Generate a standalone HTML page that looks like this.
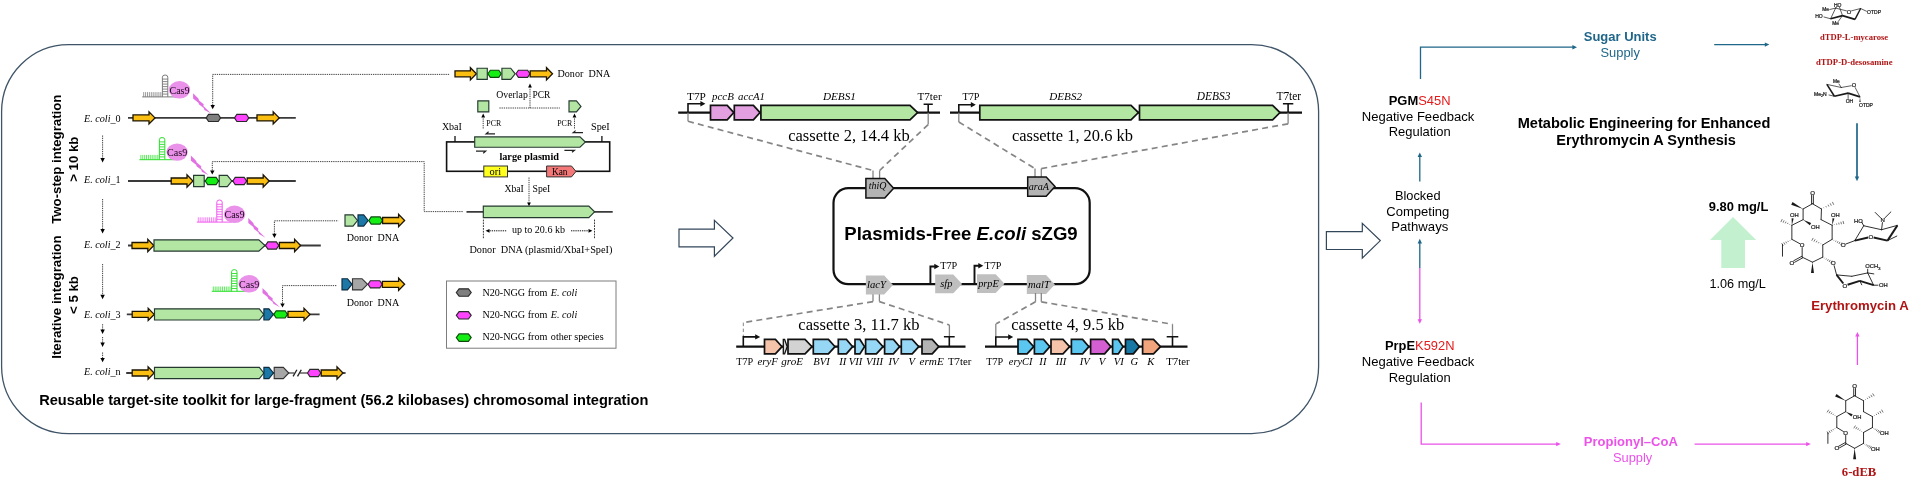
<!DOCTYPE html>
<html><head><meta charset="utf-8"><title>Figure</title>
<style>
html,body{margin:0;padding:0;background:#fff}
svg{display:block;will-change:transform}
text{white-space:pre}
.s{font-family:"Liberation Serif",serif}
.si{font-family:"Liberation Serif",serif;font-style:italic}
.sb{font-family:"Liberation Serif",serif;font-weight:bold}
.sbi{font-family:"Liberation Serif",serif;font-weight:bold;font-style:italic}
.a{font-family:"Liberation Sans",sans-serif}
.ab{font-family:"Liberation Sans",sans-serif;font-weight:bold}
.ai{font-family:"Liberation Sans",sans-serif;font-style:italic}
.abi{font-family:"Liberation Sans",sans-serif;font-weight:bold;font-style:italic}
</style></head><body>
<svg width="1920" height="480" viewBox="0 0 1920 480">
<rect width="1920" height="480" fill="#fff"/>
<rect x="1.6" y="44.6" width="1317" height="389" rx="67" ry="67" fill="none" stroke="#3f5467" stroke-width="1.3"/>
<text class="ab" font-size="13.25" text-anchor="middle" transform="translate(61.2,159.2) rotate(-90)">Two-step integration</text>
<text class="ab" font-size="13.25" text-anchor="middle" transform="translate(77.5,159.2) rotate(-90)">&gt; 10 kb</text>
<text class="ab" font-size="13.3" text-anchor="middle" transform="translate(61.2,297.1) rotate(-90)">Iterative integration</text>
<text class="ab" font-size="13.25" text-anchor="middle" transform="translate(77.5,295) rotate(-90)">&lt; 5 kb</text>
<text x="84" y="121.8" font-size="10.15" textLength="36.6" lengthAdjust="spacingAndGlyphs"><tspan class="si">E. coli</tspan><tspan class="s">_0</tspan></text>
<text x="84" y="183.2" font-size="10.15" textLength="36.6" lengthAdjust="spacingAndGlyphs"><tspan class="si">E. coli</tspan><tspan class="s">_1</tspan></text>
<text x="84" y="248.3" font-size="10.15" textLength="36.6" lengthAdjust="spacingAndGlyphs"><tspan class="si">E. coli</tspan><tspan class="s">_2</tspan></text>
<text x="84" y="317.5" font-size="10.15" textLength="36.6" lengthAdjust="spacingAndGlyphs"><tspan class="si">E. coli</tspan><tspan class="s">_3</tspan></text>
<text x="84" y="374.8" font-size="10.15" textLength="36.6" lengthAdjust="spacingAndGlyphs"><tspan class="si">E. coli</tspan><tspan class="s">_n</tspan></text>
<line x1="102.6" y1="135.5" x2="102.6" y2="159.5" stroke="#111" stroke-width="0.8" stroke-dasharray="1.3 0.9"/>
<polygon points="102.6,162.5 100.4,158.1 104.8,158.1" fill="#000"/>
<line x1="102.6" y1="199" x2="102.6" y2="230.5" stroke="#111" stroke-width="0.8" stroke-dasharray="1.3 0.9"/>
<polygon points="102.6,233.5 100.4,229.1 104.8,229.1" fill="#000"/>
<line x1="102.6" y1="264" x2="102.6" y2="296.2" stroke="#111" stroke-width="0.8" stroke-dasharray="1.3 0.9"/>
<polygon points="102.6,299.2 100.4,294.8 104.8,294.8" fill="#000"/>
<line x1="102.6" y1="324.2" x2="102.6" y2="331" stroke="#111" stroke-width="0.8" stroke-dasharray="1.3 0.9"/>
<polygon points="102.6,334 100.4,329.6 104.8,329.6" fill="#000"/>
<line x1="102.6" y1="337" x2="102.6" y2="343.9" stroke="#111" stroke-width="0.8" stroke-dasharray="1.3 0.9"/>
<polygon points="102.6,346.9 100.4,342.5 104.8,342.5" fill="#000"/>
<line x1="102.6" y1="352.5" x2="102.6" y2="359.3" stroke="#111" stroke-width="0.8" stroke-dasharray="1.3 0.9"/>
<polygon points="102.6,362.3 100.4,357.9 104.8,357.9" fill="#000"/>
<line x1="128" y1="117.9" x2="295.8" y2="117.9" stroke="#3a3a3a" stroke-width="1.8"/>
<polygon points="133,114.9 149,114.9 149,111.8 155,117.9 149,124 149,120.9 133,120.9" fill="#fbbf12" stroke="#1c1403" stroke-width="1.3" stroke-linejoin="miter"/>
<polygon points="206.2,117.9 208.6,114.3 218.2,114.3 220.6,117.9 218.2,121.5 208.6,121.5" fill="#7f7f7f" stroke="#2a2a2a" stroke-width="1.15" stroke-linejoin="miter"/>
<polygon points="234.5,117.9 236.9,114.3 246.4,114.3 248.8,117.9 246.4,121.5 236.9,121.5" fill="#ff44ff" stroke="#2a2a2a" stroke-width="1.15" stroke-linejoin="miter"/>
<polygon points="257,114.9 273.2,114.9 273.2,111.8 279.2,117.9 273.2,124 273.2,120.9 257,120.9" fill="#fbbf12" stroke="#1c1403" stroke-width="1.3" stroke-linejoin="miter"/>
<line x1="142.2" y1="96.9" x2="177" y2="96.9" stroke="#7a7a7a" stroke-width="1"/>
<path d="M143.7 96.9V92.1M145.6 96.9V92.1M147.5 96.9V92.1M149.4 96.9V92.1M151.3 96.9V92.1M153.2 96.9V92.1M155.1 96.9V92.1M157 96.9V92.1M158.9 96.9V92.1M160.8 96.9V92.1" fill="none" stroke="#7a7a7a" stroke-width="0.75"/>
<path d="M162.4 96.9V77.2Q162.4 75 165.1 75Q167.8 75 167.8 77.2V96.9" fill="none" stroke="#7a7a7a" stroke-width="1"/>
<path d="M162.4 94.1H167.8M162.4 91.6H167.8M162.4 89.1H167.8M162.4 86.6H167.8M162.4 84.1H167.8M162.4 81.6H167.8M162.4 79.1H167.8" fill="none" stroke="#7a7a7a" stroke-width="0.9"/>
<ellipse cx="179.5" cy="89.8" rx="10.7" ry="8.7" fill="#ea92ea"/>
<text class="s" x="169.4" y="93.7" font-size="10.1" textLength="20.2" lengthAdjust="spacingAndGlyphs" fill="#1e061e">Cas9</text>
<polygon points="193.1,93.3 198.39,98.6 199.08,100.5 203.72,104.25 203.37,106.1 211.2,113.6 204.37,109.9 203.72,108 199.08,104.6 198.39,102.7 193.1,98.6" fill="#e272e4"/>
<path d="M212.7 105.5V74.4H449.5" fill="none" stroke="#111" stroke-width="0.8" stroke-dasharray="1.3 0.9"/>
<polygon points="212.7,109.2 210.5,105 214.9,105" fill="#000"/>
<line x1="128" y1="181" x2="295.8" y2="181" stroke="#3a3a3a" stroke-width="1.8"/>
<polygon points="171.2,178 187,178 187,174.9 193,181 187,187.1 187,184 171.2,184" fill="#fbbf12" stroke="#1c1403" stroke-width="1.3" stroke-linejoin="miter"/>
<polygon points="193.6,175.4 204.2,175.4 204.2,186.6 193.6,186.6" fill="#b3e6a3" stroke="#24392f" stroke-width="1.15" stroke-linejoin="miter"/>
<polygon points="205.3,181 207.7,177.4 216.1,177.4 218.5,181 216.1,184.6 207.7,184.6" fill="#14ee14" stroke="#0d4a0d" stroke-width="1.15" stroke-linejoin="miter"/>
<polygon points="219.2,175.4 227.3,175.4 231.8,181 227.3,186.6 219.2,186.6" fill="#b3e6a3" stroke="#24392f" stroke-width="1.15" stroke-linejoin="miter"/>
<polygon points="232.8,181 235.2,177.4 244.2,177.4 246.6,181 244.2,184.6 235.2,184.6" fill="#ff44ff" stroke="#2a2a2a" stroke-width="1.15" stroke-linejoin="miter"/>
<polygon points="247.2,178 263.2,178 263.2,174.9 269.2,181 263.2,187.1 263.2,184 247.2,184" fill="#fbbf12" stroke="#1c1403" stroke-width="1.3" stroke-linejoin="miter"/>
<line x1="139.4" y1="159.7" x2="173.8" y2="159.7" stroke="#2be02b" stroke-width="1"/>
<path d="M140.9 159.7V154.9M142.78 159.7V154.9M144.66 159.7V154.9M146.53 159.7V154.9M148.41 159.7V154.9M150.29 159.7V154.9M152.17 159.7V154.9M154.04 159.7V154.9M155.92 159.7V154.9M157.8 159.7V154.9" fill="none" stroke="#2be02b" stroke-width="0.75"/>
<path d="M159.4 159.7V139.7Q159.4 137.5 162.1 137.5Q164.8 137.5 164.8 139.7V159.7" fill="none" stroke="#2be02b" stroke-width="1"/>
<path d="M159.4 156.9H164.8M159.4 154.4H164.8M159.4 151.9H164.8M159.4 149.4H164.8M159.4 146.9H164.8M159.4 144.4H164.8M159.4 141.9H164.8" fill="none" stroke="#2be02b" stroke-width="0.9"/>
<ellipse cx="177.1" cy="152.1" rx="10.7" ry="8.7" fill="#ea92ea"/>
<text class="s" x="167" y="156" font-size="10.1" textLength="20.2" lengthAdjust="spacingAndGlyphs" fill="#1e061e">Cas9</text>
<polygon points="190.9,155.5 196.07,160.67 196.75,162.52 201.29,166.18 200.94,167.98 208.6,175.3 201.92,171.69 201.29,169.84 196.75,166.52 196.07,164.67 190.9,160.67" fill="#e272e4"/>
<path d="M212.3 170.5V161.6H424.2V211.6H463" fill="none" stroke="#111" stroke-width="0.8" stroke-dasharray="1.3 0.9"/>
<polygon points="212.3,174.6 210.1,170.4 214.5,170.4" fill="#000"/>
<line x1="128" y1="245.5" x2="320.8" y2="245.5" stroke="#3a3a3a" stroke-width="1.8"/>
<polygon points="132,242.5 147.8,242.5 147.8,239.4 153.8,245.5 147.8,251.6 147.8,248.5 132,248.5" fill="#fbbf12" stroke="#1c1403" stroke-width="1.3" stroke-linejoin="miter"/>
<polygon points="154,239.9 258.8,239.9 265,245.5 258.8,251.1 154,251.1" fill="#b3e6a3" stroke="#24392f" stroke-width="1.15" stroke-linejoin="miter"/>
<polygon points="265.5,245.5 267.9,241.9 276.4,241.9 278.8,245.5 276.4,249.1 267.9,249.1" fill="#ff44ff" stroke="#2a2a2a" stroke-width="1.15" stroke-linejoin="miter"/>
<polygon points="279.4,242.5 294.6,242.5 294.6,239.4 300.6,245.5 294.6,251.6 294.6,248.5 279.4,248.5" fill="#fbbf12" stroke="#1c1403" stroke-width="1.3" stroke-linejoin="miter"/>
<line x1="196.8" y1="222.1" x2="231.7" y2="222.1" stroke="#f05af0" stroke-width="1"/>
<path d="M198.3 222.1V217.3M200.18 222.1V217.3M202.06 222.1V217.3M203.93 222.1V217.3M205.81 222.1V217.3M207.69 222.1V217.3M209.57 222.1V217.3M211.44 222.1V217.3M213.32 222.1V217.3M215.2 222.1V217.3" fill="none" stroke="#f05af0" stroke-width="0.75"/>
<path d="M216.8 222.1V202.2Q216.8 200 219.5 200Q222.2 200 222.2 202.2V222.1" fill="none" stroke="#f05af0" stroke-width="1"/>
<path d="M216.8 219.3H222.2M216.8 216.8H222.2M216.8 214.3H222.2M216.8 211.8H222.2M216.8 209.3H222.2M216.8 206.8H222.2M216.8 204.3H222.2" fill="none" stroke="#f05af0" stroke-width="0.9"/>
<ellipse cx="234.5" cy="214.3" rx="10.7" ry="8.7" fill="#ea92ea"/>
<text class="s" x="224.4" y="218.2" font-size="10.1" textLength="20.2" lengthAdjust="spacingAndGlyphs" fill="#1e061e">Cas9</text>
<polygon points="248.3,217.9 253.32,223.07 253.99,224.92 258.39,228.58 258.06,230.38 265.5,237.7 259.01,234.09 258.39,232.24 253.99,228.92 253.32,227.07 248.3,223.07" fill="#e272e4"/>
<path d="M274.4 234V220.8H338.3" fill="none" stroke="#111" stroke-width="0.8" stroke-dasharray="1.3 0.9"/>
<polygon points="274.4,238 272.2,233.8 276.6,233.8" fill="#000"/>
<polygon points="345,214.9 353,214.9 357.5,220.5 353,226.1 345,226.1" fill="#b3e6a3" stroke="#24392f" stroke-width="1.15" stroke-linejoin="miter"/>
<polygon points="358,214.9 363.7,214.9 368.2,220.5 363.7,226.1 358,226.1" fill="#1c78a6" stroke="#0c2c40" stroke-width="1.15" stroke-linejoin="miter"/>
<polygon points="368.8,220.5 371.2,216.9 380.1,216.9 382.5,220.5 380.1,224.1 371.2,224.1" fill="#14ee14" stroke="#0d4a0d" stroke-width="1.15" stroke-linejoin="miter"/>
<polygon points="382.6,217.5 398.6,217.5 398.6,214.4 404.6,220.5 398.6,226.6 398.6,223.5 382.6,223.5" fill="#fbbf12" stroke="#1c1403" stroke-width="1.3" stroke-linejoin="miter"/>
<text class="s" x="346.8" y="241.3" font-size="10.05" textLength="52.5" lengthAdjust="spacingAndGlyphs">Donor  DNA</text>
<line x1="126.8" y1="314.4" x2="319.6" y2="314.4" stroke="#3a3a3a" stroke-width="1.8"/>
<polygon points="132.2,311.4 148.2,311.4 148.2,308.3 154.2,314.4 148.2,320.5 148.2,317.4 132.2,317.4" fill="#fbbf12" stroke="#1c1403" stroke-width="1.3" stroke-linejoin="miter"/>
<polygon points="154.5,308.8 259.3,308.8 263.8,314.4 259.3,320 154.5,320" fill="#b3e6a3" stroke="#24392f" stroke-width="1.15" stroke-linejoin="miter"/>
<polygon points="263.9,308.8 268.9,308.8 273.4,314.4 268.9,320 263.9,320" fill="#1c78a6" stroke="#0c2c40" stroke-width="1.15" stroke-linejoin="miter"/>
<polygon points="273.8,314.4 276.2,310.8 285.1,310.8 287.5,314.4 285.1,318 276.2,318" fill="#14ee14" stroke="#0d4a0d" stroke-width="1.15" stroke-linejoin="miter"/>
<polygon points="288,311.4 304,311.4 304,308.3 310,314.4 304,320.5 304,317.4 288,317.4" fill="#fbbf12" stroke="#1c1403" stroke-width="1.3" stroke-linejoin="miter"/>
<line x1="211.8" y1="291.3" x2="246.5" y2="291.3" stroke="#2be02b" stroke-width="1"/>
<path d="M213.3 291.3V286.5M215.16 291.3V286.5M217.01 291.3V286.5M218.87 291.3V286.5M220.72 291.3V286.5M222.58 291.3V286.5M224.43 291.3V286.5M226.29 291.3V286.5M228.14 291.3V286.5M230 291.3V286.5" fill="none" stroke="#2be02b" stroke-width="0.75"/>
<path d="M231.6 291.3V271.8Q231.6 269.6 234.3 269.6Q237 269.6 237 271.8V291.3" fill="none" stroke="#2be02b" stroke-width="1"/>
<path d="M231.6 288.5H237M231.6 286H237M231.6 283.5H237M231.6 281H237M231.6 278.5H237M231.6 276H237M231.6 273.5H237" fill="none" stroke="#2be02b" stroke-width="0.9"/>
<ellipse cx="249.1" cy="283.8" rx="10.7" ry="8.7" fill="#ea92ea"/>
<text class="s" x="239" y="287.7" font-size="10.1" textLength="20.2" lengthAdjust="spacingAndGlyphs" fill="#1e061e">Cas9</text>
<polygon points="262.5,288 267.61,293.04 268.29,294.85 272.77,298.41 272.43,300.17 280,307.3 273.4,303.78 272.77,301.98 268.29,298.74 267.61,296.94 262.5,293.04" fill="#e272e4"/>
<path d="M282.5 303.5V285.6H336.3" fill="none" stroke="#111" stroke-width="0.8" stroke-dasharray="1.3 0.9"/>
<polygon points="282.5,307.6 280.3,303.4 284.7,303.4" fill="#000"/>
<polygon points="342,278.7 347.5,278.7 352,284.3 347.5,289.9 342,289.9" fill="#1c78a6" stroke="#0c2c40" stroke-width="1.15" stroke-linejoin="miter"/>
<polygon points="352.5,278.7 362,278.7 367.5,284.3 362,289.9 352.5,289.9" fill="#a6a6a6" stroke="#333" stroke-width="1.15" stroke-linejoin="miter"/>
<polygon points="368,284.3 370.4,280.7 379.8,280.7 382.2,284.3 379.8,287.9 370.4,287.9" fill="#ff44ff" stroke="#2a2a2a" stroke-width="1.15" stroke-linejoin="miter"/>
<polygon points="382.4,281.3 398.6,281.3 398.6,278.2 404.6,284.3 398.6,290.4 398.6,287.3 382.4,287.3" fill="#fbbf12" stroke="#1c1403" stroke-width="1.3" stroke-linejoin="miter"/>
<text class="s" x="346.8" y="306.3" font-size="10.05" textLength="52.5" lengthAdjust="spacingAndGlyphs">Donor  DNA</text>
<line x1="126.2" y1="373" x2="289" y2="373" stroke="#3a3a3a" stroke-width="1.8"/>
<line x1="289" y1="373" x2="294.4" y2="373" stroke="#3a3a3a" stroke-width="1.2"/>
<line x1="300" y1="373" x2="307.6" y2="373" stroke="#3a3a3a" stroke-width="1.2"/>
<line x1="320" y1="373" x2="345.6" y2="373" stroke="#3a3a3a" stroke-width="1.8"/>
<polygon points="132.2,370 148.1,370 148.1,366.9 154.1,373 148.1,379.1 148.1,376 132.2,376" fill="#fbbf12" stroke="#1c1403" stroke-width="1.3" stroke-linejoin="miter"/>
<polygon points="154.5,367.4 259.3,367.4 263.8,373 259.3,378.6 154.5,378.6" fill="#b3e6a3" stroke="#24392f" stroke-width="1.15" stroke-linejoin="miter"/>
<polygon points="263.9,367.4 268.9,367.4 273.4,373 268.9,378.6 263.9,378.6" fill="#1c78a6" stroke="#0c2c40" stroke-width="1.15" stroke-linejoin="miter"/>
<polygon points="274.2,367.4 283.3,367.4 288.8,373 283.3,378.6 274.2,378.6" fill="#a6a6a6" stroke="#333" stroke-width="1.15" stroke-linejoin="miter"/>
<line x1="293.1" y1="376.4" x2="296.9" y2="369.8" stroke="#222" stroke-width="1.3"/>
<line x1="297.5" y1="376.4" x2="301.3" y2="369.8" stroke="#222" stroke-width="1.3"/>
<polygon points="307.5,373 309.9,369.4 318.4,369.4 320.8,373 318.4,376.6 309.9,376.6" fill="#ff44ff" stroke="#2a2a2a" stroke-width="1.15" stroke-linejoin="miter"/>
<polygon points="321.2,370 337,370 337,366.9 343,373 337,379.1 337,376 321.2,376" fill="#fbbf12" stroke="#1c1403" stroke-width="1.3" stroke-linejoin="miter"/>
<text class="ab" x="39.2" y="404.6" font-size="14.6" textLength="609.2" lengthAdjust="spacingAndGlyphs">Reusable target-site toolkit for large-fragment (56.2 kilobases) chromosomal integration</text>
<polygon points="455,70.8 470.4,70.8 470.4,67.7 476.4,73.8 470.4,79.9 470.4,76.8 455,76.8" fill="#fbbf12" stroke="#1c1403" stroke-width="1.3" stroke-linejoin="miter"/>
<polygon points="477,68.2 487.3,68.2 487.3,79.4 477,79.4" fill="#b3e6a3" stroke="#24392f" stroke-width="1.15" stroke-linejoin="miter"/>
<polygon points="487.9,73.8 490.3,70.2 498.8,70.2 501.2,73.8 498.8,77.4 490.3,77.4" fill="#14ee14" stroke="#0d4a0d" stroke-width="1.15" stroke-linejoin="miter"/>
<polygon points="501.9,68.2 510.7,68.2 515.2,73.8 510.7,79.4 501.9,79.4" fill="#b3e6a3" stroke="#24392f" stroke-width="1.15" stroke-linejoin="miter"/>
<polygon points="516,73.8 518.4,70.2 527.6,70.2 530,73.8 527.6,77.4 518.4,77.4" fill="#ff44ff" stroke="#2a2a2a" stroke-width="1.15" stroke-linejoin="miter"/>
<polygon points="530.2,70.8 546.5,70.8 546.5,67.7 552.5,73.8 546.5,79.9 546.5,76.8 530.2,76.8" fill="#fbbf12" stroke="#1c1403" stroke-width="1.3" stroke-linejoin="miter"/>
<text class="s" x="557.5" y="77" font-size="10.11" textLength="52.8" lengthAdjust="spacingAndGlyphs">Donor  DNA</text>
<text class="s" x="496.3" y="98.1" font-size="9.78" textLength="31.5" lengthAdjust="spacingAndGlyphs">Overlap</text>
<text class="s" x="532.5" y="98.1" font-size="9.42" textLength="17.8" lengthAdjust="spacingAndGlyphs">PCR</text>
<line x1="499.4" y1="108" x2="559.8" y2="108" stroke="#111" stroke-width="0.8" stroke-dasharray="1.3 0.9"/>
<line x1="530" y1="108" x2="530" y2="87.5" stroke="#111" stroke-width="0.8" stroke-dasharray="1.3 0.9"/>
<polygon points="530,83.6 528.1,87.4 531.9,87.4" fill="#000"/>
<polygon points="477.8,100.9 488.8,100.9 488.8,111.9 477.8,111.9" fill="#b3e6a3" stroke="#24392f" stroke-width="1.15" stroke-linejoin="miter"/>
<polygon points="569,100.9 576.4,100.9 581,106.4 576.4,111.9 569,111.9" fill="#b3e6a3" stroke="#24392f" stroke-width="1.15" stroke-linejoin="miter"/>
<line x1="483.2" y1="128.5" x2="483.2" y2="117.5" stroke="#111" stroke-width="0.8" stroke-dasharray="1.3 0.9"/>
<polygon points="483.2,113.6 481.3,117.4 485.1,117.4" fill="#000"/>
<line x1="574.5" y1="128.5" x2="574.5" y2="117.5" stroke="#111" stroke-width="0.8" stroke-dasharray="1.3 0.9"/>
<polygon points="574.5,113.6 572.6,117.4 576.4,117.4" fill="#000"/>
<text class="s" x="486.3" y="126" font-size="7.94" textLength="15" lengthAdjust="spacingAndGlyphs">PCR</text>
<text class="s" x="557.2" y="126" font-size="7.94" textLength="15" lengthAdjust="spacingAndGlyphs">PCR</text>
<path d="M495 133.8H486.2L488.6 131.8" fill="none" stroke="#222" stroke-width="1.2"/>
<path d="M583 132.6H573.2L575.6 130.6" fill="none" stroke="#222" stroke-width="1.2"/>
<path d="M476 151.2H485.6L483.2 153.2" fill="none" stroke="#222" stroke-width="1.2"/>
<path d="M564.4 150.3H574.4L572 152.3" fill="none" stroke="#222" stroke-width="1.2"/>
<text class="s" x="441.9" y="130" font-size="10" textLength="20" lengthAdjust="spacingAndGlyphs">XbaI</text>
<text class="s" x="591" y="130" font-size="10.2" textLength="18.7" lengthAdjust="spacingAndGlyphs">SpeI</text>
<line x1="455" y1="136" x2="455" y2="141.9" stroke="#111" stroke-width="1.3"/>
<line x1="601.9" y1="136" x2="601.9" y2="141.9" stroke="#111" stroke-width="1.3"/>
<rect x="446.6" y="141.9" width="163.1" height="29.4" fill="none" stroke="#111" stroke-width="1.6"/>
<polygon points="474.7,136.9 580,136.9 585.3,142.05 580,147.2 474.7,147.2" fill="#b3e6a3" stroke="#24392f" stroke-width="1.15" stroke-linejoin="miter"/>
<text class="sb" x="499.4" y="159.6" font-size="10.27" textLength="59.6" lengthAdjust="spacingAndGlyphs">large plasmid</text>
<rect x="483.8" y="166" width="23.7" height="10.9" fill="#ffff1e" stroke="#333" stroke-width="1"/>
<text class="s" x="489.6" y="175.2" font-size="10.44" textLength="11.6" lengthAdjust="spacingAndGlyphs">ori</text>
<polygon points="546.6,166 571.5,166 576,171.45 571.5,176.9 546.6,176.9" fill="#f47878" stroke="#333" stroke-width="1" stroke-linejoin="miter"/>
<text class="s" x="552" y="175" font-size="9.3" textLength="15.5" lengthAdjust="spacingAndGlyphs">Kan</text>
<line x1="529" y1="177.5" x2="529" y2="202.5" stroke="#111" stroke-width="0.8" stroke-dasharray="1.3 0.9"/>
<polygon points="529,206.2 527.1,202.4 530.9,202.4" fill="#000"/>
<text class="s" x="504.4" y="191.5" font-size="9.7" textLength="19.4" lengthAdjust="spacingAndGlyphs">XbaI</text>
<text class="s" x="532.5" y="191.5" font-size="9.71" textLength="17.8" lengthAdjust="spacingAndGlyphs">SpeI</text>
<line x1="466.5" y1="211.9" x2="612.7" y2="211.9" stroke="#3a3a3a" stroke-width="1.8"/>
<polygon points="483.3,206.1 588.8,206.1 594.6,211.85 588.8,217.6 483.3,217.6" fill="#b3e6a3" stroke="#24392f" stroke-width="1.15" stroke-linejoin="miter"/>
<line x1="483.4" y1="219.6" x2="483.4" y2="239" stroke="#222" stroke-width="0.9" stroke-dasharray="1.8 1"/>
<line x1="594.5" y1="219.6" x2="594.5" y2="239" stroke="#222" stroke-width="0.9" stroke-dasharray="1.8 1"/>
<text class="s" x="511.9" y="233.2" font-size="10.06" textLength="53.1" lengthAdjust="spacingAndGlyphs">up to 20.6 kb</text>
<line x1="489.5" y1="230.8" x2="507" y2="230.8" stroke="#111" stroke-width="1" stroke-dasharray="1.3 0.9"/>
<polygon points="485.6,230.8 489.5,228.9 489.5,232.7" fill="#000"/>
<line x1="571" y1="230.8" x2="588.5" y2="230.8" stroke="#111" stroke-width="1" stroke-dasharray="1.3 0.9"/>
<polygon points="592.4,230.8 588.5,228.9 588.5,232.7" fill="#000"/>
<text class="s" x="469.4" y="252.7" font-size="10.27" textLength="143" lengthAdjust="spacingAndGlyphs">Donor  DNA (plasmid/XbaI+SpeI)</text>
<rect x="446.5" y="281" width="169.5" height="67.2" fill="none" stroke="#7d7d7d" stroke-width="1"/>
<polygon points="456.3,292.5 459.1,288.8 468.4,288.8 471.2,292.5 468.4,296.2 459.1,296.2" fill="#7f7f7f" stroke="#2a2a2a" stroke-width="1.15" stroke-linejoin="miter"/>
<polygon points="456.3,315.3 459.1,311.6 468.4,311.6 471.2,315.3 468.4,319 459.1,319" fill="#ff44ff" stroke="#2a2a2a" stroke-width="1.15" stroke-linejoin="miter"/>
<polygon points="456.3,337.6 459.1,333.9 468.4,333.9 471.2,337.6 468.4,341.3 459.1,341.3" fill="#14ee14" stroke="#0d4a0d" stroke-width="1.15" stroke-linejoin="miter"/>
<text class="s" x="482.4" y="295.8" font-size="10.13" textLength="65" lengthAdjust="spacingAndGlyphs">N20-NGG from</text>
<text class="si" x="550.8" y="295.8" font-size="10.11" textLength="26.4" lengthAdjust="spacingAndGlyphs">E. coli</text>
<text class="s" x="482.4" y="318.2" font-size="10.13" textLength="65" lengthAdjust="spacingAndGlyphs">N20-NGG from</text>
<text class="si" x="550.8" y="318.2" font-size="10.11" textLength="26.4" lengthAdjust="spacingAndGlyphs">E. coli</text>
<text class="s" x="482.4" y="340.1" font-size="10.13" textLength="65" lengthAdjust="spacingAndGlyphs">N20-NGG from</text>
<text class="s" x="550.8" y="340.1" font-size="10.17" textLength="52.8" lengthAdjust="spacingAndGlyphs">other species</text>
<polygon points="679,229.2 714.4,229.2 714.4,220.3 733,238 714.4,256.2 714.4,246.9 679,246.9" fill="#fff" stroke="#33475a" stroke-width="1.2" stroke-linejoin="miter"/>
<line x1="678.2" y1="112.6" x2="940" y2="112.6" stroke="#111" stroke-width="2.1"/>
<line x1="688" y1="112.6" x2="688" y2="121.3" stroke="#858585" stroke-width="1.3"/>
<path d="M688 112.6V103.8H702.4" fill="none" stroke="#111" stroke-width="1.6"/>
<polygon points="705.4,103.8 700.4,101.1 700.4,106.5" fill="#111"/>
<polygon points="710.5,105.4 727.2,105.4 733.8,112.6 727.2,119.8 710.5,119.8" fill="#e3a0e0" stroke="#111" stroke-width="1.7" stroke-linejoin="miter"/>
<polygon points="734.3,105.4 753.4,105.4 760,112.6 753.4,119.8 734.3,119.8" fill="#e3a0e0" stroke="#111" stroke-width="1.7" stroke-linejoin="miter"/>
<polygon points="760.9,105.4 910,105.4 917.6,112.6 910,119.8 760.9,119.8" fill="#b3e6a3" stroke="#111" stroke-width="1.7" stroke-linejoin="miter"/>
<line x1="928.2" y1="112.6" x2="928.2" y2="124.6" stroke="#858585" stroke-width="1.3"/>
<path d="M928.2 112.6V104.3M923.6 104.3H932.8" fill="none" stroke="#111" stroke-width="1.6"/>
<text class="s" x="687" y="100" font-size="11.28" textLength="18.8" lengthAdjust="spacingAndGlyphs">T7P</text>
<text class="si" x="712" y="100" font-size="10.91" textLength="21.8" lengthAdjust="spacingAndGlyphs">pccB</text>
<text class="si" x="738" y="100" font-size="10.81" textLength="27" lengthAdjust="spacingAndGlyphs">accA1</text>
<text class="si" x="822.9" y="99.8" font-size="11.21" textLength="33" lengthAdjust="spacingAndGlyphs">DEBS1</text>
<text class="s" x="917.5" y="100" font-size="11.13" textLength="24.1" lengthAdjust="spacingAndGlyphs">T7ter</text>
<text class="s" x="788.2" y="141.4" font-size="16.52" textLength="121.6" lengthAdjust="spacingAndGlyphs">cassette 2, 14.4 kb</text>
<line x1="688" y1="121.3" x2="873" y2="170.5" stroke="#858585" stroke-width="1.7" stroke-dasharray="6 4.2"/>
<line x1="928.2" y1="124.6" x2="879.6" y2="170.5" stroke="#858585" stroke-width="1.7" stroke-dasharray="6 4.2"/>
<line x1="873" y1="170.5" x2="873" y2="178.5" stroke="#858585" stroke-width="1.3"/>
<line x1="879.6" y1="170.5" x2="879.6" y2="178.5" stroke="#858585" stroke-width="1.3"/>
<line x1="950" y1="112.6" x2="1302" y2="112.6" stroke="#111" stroke-width="2.1"/>
<line x1="958.8" y1="112.6" x2="958.8" y2="122" stroke="#858585" stroke-width="1.3"/>
<path d="M958.8 112.6V104.8H972.8" fill="none" stroke="#111" stroke-width="1.6"/>
<polygon points="975.8,104.8 970.8,102.1 970.8,107.5" fill="#111"/>
<polygon points="979.8,105.4 1131,105.4 1138.4,112.6 1131,119.8 979.8,119.8" fill="#b3e6a3" stroke="#111" stroke-width="1.7" stroke-linejoin="miter"/>
<polygon points="1139.5,105.4 1272.6,105.4 1280,112.6 1272.6,119.8 1139.5,119.8" fill="#b3e6a3" stroke="#111" stroke-width="1.7" stroke-linejoin="miter"/>
<line x1="1288.1" y1="112.6" x2="1288.1" y2="123.8" stroke="#858585" stroke-width="1.3"/>
<path d="M1288.1 112.6V103.8M1282.9 103.8H1293.3" fill="none" stroke="#111" stroke-width="1.6"/>
<text class="s" x="962.5" y="99.6" font-size="10.2" textLength="17" lengthAdjust="spacingAndGlyphs">T7P</text>
<text class="si" x="1049.3" y="99.6" font-size="11.11" textLength="32.7" lengthAdjust="spacingAndGlyphs">DEBS2</text>
<text class="si" x="1196.8" y="99.6" font-size="11.41" textLength="33.6" lengthAdjust="spacingAndGlyphs">DEBS3</text>
<text class="s" x="1276.4" y="99.8" font-size="11.45" textLength="24.8" lengthAdjust="spacingAndGlyphs">T7ter</text>
<text class="s" x="1011.9" y="141.4" font-size="16.46" textLength="121.1" lengthAdjust="spacingAndGlyphs">cassette 1, 20.6 kb</text>
<line x1="958.8" y1="122" x2="1035" y2="168.6" stroke="#858585" stroke-width="1.7" stroke-dasharray="6 4.2"/>
<line x1="1288.1" y1="123.8" x2="1041.3" y2="168.6" stroke="#858585" stroke-width="1.7" stroke-dasharray="6 4.2"/>
<line x1="1035" y1="168.6" x2="1035" y2="177.5" stroke="#858585" stroke-width="1.3"/>
<line x1="1041.3" y1="168.6" x2="1041.3" y2="177.5" stroke="#858585" stroke-width="1.3"/>
<rect x="833.5" y="188.2" width="256.2" height="96" rx="14.8" ry="14.8" fill="none" stroke="#111" stroke-width="2.2"/>
<polygon points="865.9,178.5 884.8,178.5 893.6,188.2 884.8,197.9 865.9,197.9" fill="#b3b3b3" stroke="#111" stroke-width="1.5" stroke-linejoin="miter"/>
<text class="si" x="868.8" y="189.2" font-size="9.9" textLength="17.6" lengthAdjust="spacingAndGlyphs">thiQ</text>
<polygon points="1027.7,176.9 1046.2,176.9 1055,186.6 1046.2,196.3 1027.7,196.3" fill="#b3b3b3" stroke="#111" stroke-width="1.5" stroke-linejoin="miter"/>
<text class="si" x="1028.8" y="189.6" font-size="10.1" textLength="20.2" lengthAdjust="spacingAndGlyphs">araA</text>
<polygon points="865.9,275.6 884.2,275.6 893,285 884.2,294.4 865.9,294.4" fill="#bfbfbf" stroke="none" stroke-width="0" stroke-linejoin="miter"/>
<text class="si" x="867" y="287.5" font-size="10.63" textLength="18.9" lengthAdjust="spacingAndGlyphs">lacY</text>
<polygon points="935.2,274.5 953.3,274.5 962.1,283.9 953.3,293.3 935.2,293.3" fill="#bfbfbf" stroke="none" stroke-width="0" stroke-linejoin="miter"/>
<text class="si" x="940.3" y="287.2" font-size="10.37" textLength="12.1" lengthAdjust="spacingAndGlyphs">sfp</text>
<polygon points="977,274.3 995.7,274.3 1004.5,283.7 995.7,293.1 977,293.1" fill="#bfbfbf" stroke="none" stroke-width="0" stroke-linejoin="miter"/>
<text class="si" x="978.2" y="287.1" font-size="10.3" textLength="20.6" lengthAdjust="spacingAndGlyphs">prpE</text>
<polygon points="1026.8,275.1 1046.1,275.1 1054.9,284.5 1046.1,293.9 1026.8,293.9" fill="#bfbfbf" stroke="none" stroke-width="0" stroke-linejoin="miter"/>
<text class="si" x="1028" y="287.5" font-size="10.6" textLength="21.8" lengthAdjust="spacingAndGlyphs">malT</text>
<path d="M930.4 284.2V266.5H936.3" fill="none" stroke="#111" stroke-width="1.9"/>
<polygon points="939.3,266.5 934.3,263.8 934.3,269.2" fill="#111"/>
<text class="s" x="940.3" y="269.3" font-size="10.2" textLength="17" lengthAdjust="spacingAndGlyphs">T7P</text>
<path d="M974.5 284.2V265.8H980.3" fill="none" stroke="#111" stroke-width="1.9"/>
<polygon points="983.3,265.8 978.3,263.1 978.3,268.5" fill="#111"/>
<text class="s" x="984.5" y="268.8" font-size="10.14" textLength="16.9" lengthAdjust="spacingAndGlyphs">T7P</text>
<text class="ab" x="844.3" y="240" font-size="18.2" textLength="233.4" lengthAdjust="spacingAndGlyphs">Plasmids-Free <tspan class="abi">E.coli</tspan> sZG9</text>
<line x1="873" y1="294.3" x2="873" y2="301.6" stroke="#858585" stroke-width="1.3"/>
<line x1="879.4" y1="294.3" x2="879.4" y2="301.6" stroke="#858585" stroke-width="1.3"/>
<line x1="873" y1="301.6" x2="743.3" y2="322.6" stroke="#858585" stroke-width="1.7" stroke-dasharray="6 4.2"/>
<line x1="879.4" y1="301.6" x2="949.4" y2="325" stroke="#858585" stroke-width="1.7" stroke-dasharray="6 4.2"/>
<line x1="743.3" y1="322.6" x2="743.3" y2="336.8" stroke="#858585" stroke-width="1" stroke-dasharray="3.5 2.5"/>
<line x1="949.4" y1="325" x2="949.4" y2="336.8" stroke="#858585" stroke-width="1.3"/>
<line x1="736.2" y1="346.65" x2="965.5" y2="346.65" stroke="#111" stroke-width="2.1"/>
<path d="M743.3 346.65V336.9H757.2" fill="none" stroke="#111" stroke-width="1.6"/>
<polygon points="760.2,336.9 755.2,334.2 755.2,339.6" fill="#111"/>
<path d="M949.3 346.65V336.8M943.9 336.8H954.7" fill="none" stroke="#111" stroke-width="1.6"/>
<polygon points="764.5,339.45 775.4,339.45 782,346.65 775.4,353.85 764.5,353.85" fill="#f5c3a9" stroke="#111" stroke-width="1.7" stroke-linejoin="miter"/>
<polygon points="783.3,339.45 784.6,339.45 787.2,346.65 784.6,353.85 783.3,353.85" fill="#dcdcdc" stroke="#111" stroke-width="1.3" stroke-linejoin="miter"/>
<polygon points="788,339.45 805,339.45 812,346.65 805,353.85 788,353.85" fill="#d3d3d3" stroke="#111" stroke-width="1.7" stroke-linejoin="miter"/>
<polygon points="813.3,339.45 828.4,339.45 835,346.65 828.4,353.85 813.3,353.85" fill="#97d7f6" stroke="#111" stroke-width="1.7" stroke-linejoin="miter"/>
<polygon points="838.3,339.45 846.4,339.45 852.6,346.65 846.4,353.85 838.3,353.85" fill="#97d7f6" stroke="#111" stroke-width="1.7" stroke-linejoin="miter"/>
<polygon points="855,339.45 859.9,339.45 864.5,346.65 859.9,353.85 855,353.85" fill="#97d7f6" stroke="#111" stroke-width="1.7" stroke-linejoin="miter"/>
<polygon points="865.6,339.45 876.4,339.45 883,346.65 876.4,353.85 865.6,353.85" fill="#97d7f6" stroke="#111" stroke-width="1.7" stroke-linejoin="miter"/>
<polygon points="884.6,339.45 893.4,339.45 899.6,346.65 893.4,353.85 884.6,353.85" fill="#97d7f6" stroke="#111" stroke-width="1.7" stroke-linejoin="miter"/>
<polygon points="901.3,339.45 912.2,339.45 918.8,346.65 912.2,353.85 901.3,353.85" fill="#97d7f6" stroke="#111" stroke-width="1.7" stroke-linejoin="miter"/>
<polygon points="922,339.45 932.2,339.45 938.8,346.65 932.2,353.85 922,353.85" fill="#b3b3b3" stroke="#111" stroke-width="1.7" stroke-linejoin="miter"/>
<text class="s" x="736.3" y="365" font-size="10.2" textLength="17" lengthAdjust="spacingAndGlyphs">T7P</text>
<text class="si" x="757.5" y="365" font-size="10.86" textLength="20.5" lengthAdjust="spacingAndGlyphs">eryF</text>
<text class="si" x="781.3" y="365" font-size="11.06" textLength="21.7" lengthAdjust="spacingAndGlyphs">groE</text>
<text class="si" x="821.5" y="365" font-size="10.6" text-anchor="middle">BVI</text>
<text class="si" x="842.75" y="365" font-size="10.6" text-anchor="middle">II</text>
<text class="si" x="855.55" y="365" font-size="10.6" text-anchor="middle">VII</text>
<text class="si" x="874.45" y="365" font-size="10.6" text-anchor="middle">VIII</text>
<text class="si" x="893.4" y="365" font-size="10.6" text-anchor="middle">IV</text>
<text class="si" x="911.7" y="365" font-size="10.6" text-anchor="middle">V</text>
<text class="si" x="919.5" y="365" font-size="11.22" textLength="24.3" lengthAdjust="spacingAndGlyphs">ermE</text>
<text class="s" x="948" y="365" font-size="10.76" textLength="23.3" lengthAdjust="spacingAndGlyphs">T7ter</text>
<text class="s" x="798.3" y="330" font-size="16.57" textLength="121.3" lengthAdjust="spacingAndGlyphs">cassette 3, 11.7 kb</text>
<line x1="1035.5" y1="293" x2="1035.5" y2="301.8" stroke="#858585" stroke-width="1.3"/>
<line x1="1041.3" y1="293" x2="1041.3" y2="301.8" stroke="#858585" stroke-width="1.3"/>
<line x1="1035.5" y1="301.8" x2="996.2" y2="323.8" stroke="#858585" stroke-width="1.7" stroke-dasharray="6 4.2"/>
<line x1="1041.3" y1="301.8" x2="1172.5" y2="324.3" stroke="#858585" stroke-width="1.7" stroke-dasharray="6 4.2"/>
<line x1="995.8" y1="323.8" x2="995.8" y2="337" stroke="#858585" stroke-width="1.3"/>
<line x1="1172.5" y1="324.3" x2="1172.5" y2="336.8" stroke="#858585" stroke-width="1.3"/>
<line x1="985" y1="346.65" x2="1187.5" y2="346.65" stroke="#111" stroke-width="2.1"/>
<path d="M995.8 346.65V337H1010.2" fill="none" stroke="#111" stroke-width="1.6"/>
<polygon points="1013.2,337 1008.2,334.3 1008.2,339.7" fill="#111"/>
<path d="M1172.5 346.65V336.8M1166.7 336.8H1178.3" fill="none" stroke="#111" stroke-width="1.6"/>
<polygon points="1018,339.45 1027.1,339.45 1033.7,346.65 1027.1,353.85 1018,353.85" fill="#5bc6f0" stroke="#111" stroke-width="1.7" stroke-linejoin="miter"/>
<polygon points="1034.4,339.45 1043.5,339.45 1049.8,346.65 1043.5,353.85 1034.4,353.85" fill="#5bc6f0" stroke="#111" stroke-width="1.7" stroke-linejoin="miter"/>
<polygon points="1051,339.45 1063,339.45 1069.6,346.65 1063,353.85 1051,353.85" fill="#f5c3a9" stroke="#111" stroke-width="1.7" stroke-linejoin="miter"/>
<polygon points="1071.4,339.45 1082.6,339.45 1088.9,346.65 1082.6,353.85 1071.4,353.85" fill="#5bc6f0" stroke="#111" stroke-width="1.7" stroke-linejoin="miter"/>
<polygon points="1090.6,339.45 1104.6,339.45 1110.9,346.65 1104.6,353.85 1090.6,353.85" fill="#d45fd2" stroke="#111" stroke-width="1.7" stroke-linejoin="miter"/>
<polygon points="1112.6,339.45 1118.3,339.45 1123,346.65 1118.3,353.85 1112.6,353.85" fill="#5bc6f0" stroke="#111" stroke-width="1.7" stroke-linejoin="miter"/>
<polygon points="1125.5,339.45 1133.4,339.45 1139.4,346.65 1133.4,353.85 1125.5,353.85" fill="#1878a5" stroke="#111" stroke-width="1.7" stroke-linejoin="miter"/>
<polygon points="1142.6,339.45 1153.5,339.45 1160.5,346.65 1153.5,353.85 1142.6,353.85" fill="#f2a57c" stroke="#111" stroke-width="1.7" stroke-linejoin="miter"/>
<text class="s" x="986.3" y="365" font-size="10.2" textLength="17" lengthAdjust="spacingAndGlyphs">T7P</text>
<text class="si" x="1008.8" y="365" font-size="10.41" textLength="23.7" lengthAdjust="spacingAndGlyphs">eryCI</text>
<text class="si" x="1042.9" y="365" font-size="10.6" text-anchor="middle">II</text>
<text class="si" x="1061.05" y="365" font-size="10.6" text-anchor="middle">III</text>
<text class="si" x="1084.75" y="365" font-size="10.6" text-anchor="middle">IV</text>
<text class="si" x="1101.9" y="365" font-size="10.6" text-anchor="middle">V</text>
<text class="si" x="1118.7" y="365" font-size="10.6" text-anchor="middle">VI</text>
<text class="si" x="1134.25" y="365" font-size="10.6" text-anchor="middle">G</text>
<text class="si" x="1150.75" y="365" font-size="10.6" text-anchor="middle">K</text>
<text class="s" x="1166.3" y="365" font-size="10.71" textLength="23.2" lengthAdjust="spacingAndGlyphs">T7ter</text>
<text class="s" x="1011.3" y="330" font-size="16.47" textLength="113" lengthAdjust="spacingAndGlyphs">cassette 4, 9.5 kb</text>
<polygon points="1326.4,231.7 1362.3,231.7 1362.3,223.4 1380.3,240.6 1362.3,258.1 1362.3,249.5 1326.4,249.5" fill="#fff" stroke="#33475a" stroke-width="1.2" stroke-linejoin="miter"/>
<path d="M1420.5 79 L1420.5 47.2 L1573.32 47.2" fill="none" stroke="#1f6689" stroke-width="1.3"/>
<polygon points="1577,47.2 1572.4,49.4 1572.4,45" fill="#1f6689"/>
<path d="M1714.2 44.6 L1765.72 44.6" fill="none" stroke="#1f6689" stroke-width="1.3"/>
<polygon points="1769.4,44.6 1764.8,46.8 1764.8,42.4" fill="#1f6689"/>
<path d="M1419.8 181.5 L1419.8 156.18" fill="none" stroke="#1f6689" stroke-width="1.3"/>
<polygon points="1419.8,152.5 1422,157.1 1417.6,157.1" fill="#1f6689"/>
<path d="M1419.8 268 L1419.8 242.48" fill="none" stroke="#1f6689" stroke-width="1.3"/>
<polygon points="1419.8,238.8 1422,243.4 1417.6,243.4" fill="#1f6689"/>
<path d="M1857 123.2 L1857 177.52" fill="none" stroke="#1f6689" stroke-width="1.7"/>
<polygon points="1857,181.2 1854.8,176.6 1859.2,176.6" fill="#1f6689"/>
<path d="M1419.8 268 L1419.8 320.12" fill="none" stroke="#ea52e8" stroke-width="1.3"/>
<polygon points="1419.8,323.8 1417.6,319.2 1422,319.2" fill="#ea52e8"/>
<path d="M1421.2 402.5 L1421.2 444.1 L1557.12 444.1" fill="none" stroke="#ea52e8" stroke-width="1.3"/>
<polygon points="1560.8,444.1 1556.2,446.3 1556.2,441.9" fill="#ea52e8"/>
<path d="M1694.6 444.1 L1807.12 444.1" fill="none" stroke="#ea52e8" stroke-width="1.3"/>
<polygon points="1810.8,444.1 1806.2,446.3 1806.2,441.9" fill="#ea52e8"/>
<path d="M1857.4 365 L1857.4 335.68" fill="none" stroke="#ea52e8" stroke-width="1.3"/>
<polygon points="1857.4,332 1859.6,336.6 1855.2,336.6" fill="#ea52e8"/>
<text x="1388.7" y="104.9" font-size="13" textLength="61.9" lengthAdjust="spacingAndGlyphs"><tspan class="ab">PGM</tspan><tspan class="a" fill="#e61a1a">S45N</tspan></text>
<text class="a" x="1361.8" y="120.6" font-size="13.05" textLength="112.4" lengthAdjust="spacingAndGlyphs">Negative Feedback</text>
<text class="a" x="1388.7" y="136.4" font-size="12.95" textLength="61.9" lengthAdjust="spacingAndGlyphs">Regulation</text>
<text class="a" x="1395" y="199.6" font-size="12.79" textLength="45.5" lengthAdjust="spacingAndGlyphs">Blocked</text>
<text class="a" x="1386.3" y="215.5" font-size="13.03" textLength="63" lengthAdjust="spacingAndGlyphs">Competing</text>
<text class="a" x="1391.3" y="231.3" font-size="13.15" textLength="57" lengthAdjust="spacingAndGlyphs">Pathways</text>
<text x="1385" y="350" font-size="13" textLength="69.5" lengthAdjust="spacingAndGlyphs"><tspan class="ab">PrpE</tspan><tspan class="a" fill="#e61a1a">K592N</tspan></text>
<text class="a" x="1361.8" y="366.2" font-size="13.05" textLength="112.4" lengthAdjust="spacingAndGlyphs">Negative Feedback</text>
<text class="a" x="1388.7" y="381.8" font-size="12.95" textLength="61.9" lengthAdjust="spacingAndGlyphs">Regulation</text>
<text class="ab" x="1583.8" y="41.1" font-size="12.97" textLength="72.8" lengthAdjust="spacingAndGlyphs" fill="#1f6689">Sugar Units</text>
<text class="a" x="1600.5" y="56.7" font-size="12.89" textLength="39.4" lengthAdjust="spacingAndGlyphs" fill="#1f6689">Supply</text>
<text class="ab" x="1583.8" y="446.2" font-size="13.01" textLength="94" lengthAdjust="spacingAndGlyphs" fill="#ea52e8">Propionyl–CoA</text>
<text class="a" x="1613" y="461.8" font-size="12.85" textLength="39.3" lengthAdjust="spacingAndGlyphs" fill="#ea52e8">Supply</text>
<text class="ab" x="1517.7" y="128.1" font-size="14.57" textLength="252.6" lengthAdjust="spacingAndGlyphs">Metabolic Engineering for Enhanced</text>
<text class="ab" x="1556.3" y="145.3" font-size="14.51" textLength="179.6" lengthAdjust="spacingAndGlyphs">Erythromycin A Synthesis</text>
<text class="ab" x="1708.8" y="210.8" font-size="12.9" textLength="59.5" lengthAdjust="spacingAndGlyphs">9.80 mg/L</text>
<text class="a" x="1709.5" y="288" font-size="12.66" textLength="56.3" lengthAdjust="spacingAndGlyphs">1.06 mg/L</text>
<polygon points="1733,217 1756.2,240 1745,240 1745,268 1721.3,268 1721.3,240 1710,240" fill="#c3f0cf" stroke="none" stroke-width="0" stroke-linejoin="miter"/>
<text class="ab" x="1811.2" y="309.5" font-size="13.16" textLength="97.5" lengthAdjust="spacingAndGlyphs" fill="#b01414">Erythromycin A</text>
<text class="sb" x="1841.8" y="475.6" font-size="12.67" textLength="34.5" lengthAdjust="spacingAndGlyphs" fill="#b01414">6-dEB</text>
<text class="sb" x="1820" y="39.8" font-size="8.59" textLength="68.1" lengthAdjust="spacingAndGlyphs" fill="#b01414">dTDP-L-mycarose</text>
<text class="sb" x="1816" y="64.8" font-size="8.66" textLength="76.5" lengthAdjust="spacingAndGlyphs" fill="#b01414">dTDP-D-desosamine</text>
<line x1="1812.47" y1="203.74" x2="1821.46" y2="208.98" stroke="#1a1a1a" stroke-width="0.9" stroke-linecap="round"/>
<line x1="1821.46" y1="208.98" x2="1821.09" y2="219.66" stroke="#1a1a1a" stroke-width="0.9" stroke-linecap="round"/>
<line x1="1821.09" y1="219.66" x2="1832.14" y2="225.28" stroke="#1a1a1a" stroke-width="0.9" stroke-linecap="round"/>
<line x1="1832.14" y1="225.28" x2="1832.14" y2="239.33" stroke="#1a1a1a" stroke-width="0.9" stroke-linecap="round"/>
<line x1="1832.14" y1="239.33" x2="1822.78" y2="244.95" stroke="#1a1a1a" stroke-width="0.9" stroke-linecap="round"/>
<line x1="1822.78" y1="244.95" x2="1822.78" y2="257.13" stroke="#1a1a1a" stroke-width="0.9" stroke-linecap="round"/>
<line x1="1822.78" y1="257.13" x2="1812.47" y2="262.19" stroke="#1a1a1a" stroke-width="0.9" stroke-linecap="round"/>
<line x1="1812.47" y1="262.19" x2="1802.17" y2="257.13" stroke="#1a1a1a" stroke-width="0.9" stroke-linecap="round"/>
<line x1="1802.17" y1="257.13" x2="1802.17" y2="247.55" stroke="#1a1a1a" stroke-width="0.9" stroke-linecap="round"/>
<line x1="1799.88" y1="243.71" x2="1791.86" y2="239.33" stroke="#1a1a1a" stroke-width="0.9" stroke-linecap="round"/>
<line x1="1791.86" y1="239.33" x2="1791.86" y2="225.28" stroke="#1a1a1a" stroke-width="0.9" stroke-linecap="round"/>
<line x1="1791.86" y1="225.28" x2="1803.1" y2="219.66" stroke="#1a1a1a" stroke-width="0.9" stroke-linecap="round"/>
<line x1="1803.1" y1="219.66" x2="1803.1" y2="208.98" stroke="#1a1a1a" stroke-width="0.9" stroke-linecap="round"/>
<line x1="1803.1" y1="208.98" x2="1812.47" y2="203.74" stroke="#1a1a1a" stroke-width="0.9" stroke-linecap="round"/>
<text class="a" x="1802.17" y="247.11" font-size="6" text-anchor="middle" fill="#1a1a1a" stroke="#1a1a1a" stroke-width="0.22">O</text>
<line x1="1813.37" y1="203.74" x2="1813.37" y2="195.47" stroke="#1a1a1a" stroke-width="0.9" stroke-linecap="round"/>
<line x1="1811.57" y1="203.74" x2="1811.57" y2="195.47" stroke="#1a1a1a" stroke-width="0.9" stroke-linecap="round"/>
<text class="a" x="1812.47" y="195.03" font-size="6" text-anchor="middle" fill="#1a1a1a" stroke="#1a1a1a" stroke-width="0.22">O</text>
<line x1="1801.74" y1="256.34" x2="1793.71" y2="260.72" stroke="#1a1a1a" stroke-width="0.9" stroke-linecap="round"/>
<line x1="1802.6" y1="257.92" x2="1794.58" y2="262.3" stroke="#1a1a1a" stroke-width="0.9" stroke-linecap="round"/>
<text class="a" x="1791.86" y="264.91" font-size="6" text-anchor="middle" fill="#1a1a1a" stroke="#1a1a1a" stroke-width="0.22">O</text>
<path d="M1823.93 208.15L1823.65 207.57M1826.39 207.31L1825.83 206.16M1828.85 206.47L1828.02 204.74M1831.31 205.64L1830.2 203.33M1833.78 204.8L1832.38 201.92" fill="none" stroke="#1a1a1a" stroke-width="0.6"/>
<path d="M1834.47 225.03L1834.31 224.41M1836.79 224.78L1836.48 223.54M1839.12 224.53L1838.65 222.66M1841.45 224.27L1840.83 221.79M1843.77 224.02L1843 220.92" fill="none" stroke="#1a1a1a" stroke-width="0.6"/>
<path d="M1820.87 243.55L1820.56 244.11M1818.96 242.14L1818.35 243.27M1817.05 240.74L1816.13 242.42M1815.14 239.33L1813.92 241.58M1813.24 237.93L1811.7 240.74" fill="none" stroke="#1a1a1a" stroke-width="0.6"/>
<polygon points="1812.47,262.19 1810.97,273.06 1813.97,273.06" fill="#1a1a1a"/>
<polygon points="1803.1,208.98 1792.53,202.02 1791.19,204.7" fill="#1a1a1a"/>
<path d="M1789.93 224.05L1789.67 224.64M1788 222.82L1787.48 223.99M1786.08 221.6L1785.28 223.34M1784.15 220.37L1783.09 222.7M1782.22 219.14L1780.9 222.05" fill="none" stroke="#1a1a1a" stroke-width="0.6"/>
<path d="M1789.83 240.1L1790.14 240.66M1787.8 240.87L1788.43 241.99M1785.77 241.64L1786.71 243.32M1783.74 242.41L1784.99 244.65M1781.71 243.18L1783.28 245.97" fill="none" stroke="#1a1a1a" stroke-width="0.6"/>
<line x1="1782.49" y1="244.58" x2="1782.49" y2="256.19" stroke="#1a1a1a" stroke-width="0.9" stroke-linecap="round"/>
<polygon points="1803.1,219.66 1809.84,225.22 1811.17,222.99" fill="#1a1a1a"/>
<text class="a" x="1815.28" y="229.43" font-size="5.8" text-anchor="middle" fill="#1a1a1a" stroke="#1a1a1a" stroke-width="0.22">OH</text>
<polygon points="1832.14,225.28 1834.44,218.53 1832.47,218.16" fill="#1a1a1a"/>
<text class="a" x="1835.33" y="217.06" font-size="5.8" text-anchor="middle" fill="#1a1a1a" stroke="#1a1a1a" stroke-width="0.22">OH</text>
<polygon points="1791.86,225.28 1793.61,218.46 1791.62,218.24" fill="#1a1a1a"/>
<text class="a" x="1794.3" y="216.69" font-size="5.8" text-anchor="middle" fill="#1a1a1a" stroke="#1a1a1a" stroke-width="0.22">OH</text>
<path d="M1833.83 240.51L1834.1 239.97M1835.51 241.69L1836.05 240.61M1837.2 242.87L1838 241.26M1838.88 244.04L1839.96 241.9M1840.57 245.22L1841.91 242.54" fill="none" stroke="#1a1a1a" stroke-width="0.6"/>
<text class="a" x="1843.38" y="247.11" font-size="6" text-anchor="middle" fill="#1a1a1a" stroke="#1a1a1a" stroke-width="0.22">O</text>
<path d="M1824.35 258.36L1824.64 257.83M1825.92 259.58L1826.5 258.54M1827.49 260.81L1828.37 259.24M1829.06 262.03L1830.23 259.94M1830.63 263.26L1832.1 260.64" fill="none" stroke="#1a1a1a" stroke-width="0.6"/>
<text class="a" x="1833.45" y="265.29" font-size="6" text-anchor="middle" fill="#1a1a1a" stroke="#1a1a1a" stroke-width="0.22">O</text>
<line x1="1845.82" y1="244.03" x2="1854.81" y2="240.62" stroke="#1a1a1a" stroke-width="0.9" stroke-linecap="round"/>
<line x1="1854.81" y1="240.62" x2="1868.14" y2="237.49" stroke="#1a1a1a" stroke-width="1.9" stroke-linecap="butt"/>
<line x1="1873.59" y1="237.47" x2="1887.51" y2="240.62" stroke="#1a1a1a" stroke-width="1.9" stroke-linecap="butt"/>
<line x1="1887.51" y1="240.62" x2="1897.41" y2="225.36" stroke="#1a1a1a" stroke-width="1.9" stroke-linecap="butt"/>
<line x1="1897.41" y1="225.36" x2="1881.56" y2="229.72" stroke="#1a1a1a" stroke-width="0.9" stroke-linecap="round"/>
<line x1="1881.56" y1="229.72" x2="1863.73" y2="225.76" stroke="#1a1a1a" stroke-width="0.9" stroke-linecap="round"/>
<line x1="1863.73" y1="225.76" x2="1854.81" y2="240.62" stroke="#1a1a1a" stroke-width="0.9" stroke-linecap="round"/>
<text class="a" x="1870.86" y="239.01" font-size="6" text-anchor="middle" fill="#1a1a1a" stroke="#1a1a1a" stroke-width="0.22">O</text>
<line x1="1887.51" y1="240.62" x2="1896.82" y2="236.06" stroke="#1a1a1a" stroke-width="0.9" stroke-linecap="round"/>
<line x1="1881.56" y1="229.72" x2="1882.44" y2="222.59" stroke="#1a1a1a" stroke-width="0.9" stroke-linecap="round"/>
<text class="a" x="1882.75" y="222.17" font-size="6" text-anchor="middle" fill="#1a1a1a" stroke="#1a1a1a" stroke-width="0.22">N</text>
<line x1="1880.91" y1="218.17" x2="1875.22" y2="212.48" stroke="#1a1a1a" stroke-width="0.9" stroke-linecap="round"/>
<line x1="1884.59" y1="218.17" x2="1890.87" y2="211.89" stroke="#1a1a1a" stroke-width="0.9" stroke-linecap="round"/>
<line x1="1863.73" y1="225.76" x2="1861.75" y2="222.19" stroke="#1a1a1a" stroke-width="0.9" stroke-linecap="round"/>
<text class="a" x="1858.38" y="222.89" font-size="5.8" text-anchor="middle" fill="#1a1a1a" stroke="#1a1a1a" stroke-width="0.22">HO</text>
<line x1="1834.12" y1="265.64" x2="1836.59" y2="274.9" stroke="#1a1a1a" stroke-width="0.9" stroke-linecap="round"/>
<line x1="1836.59" y1="274.9" x2="1843.31" y2="283.54" stroke="#1a1a1a" stroke-width="1.9" stroke-linecap="butt"/>
<line x1="1847.57" y1="284.74" x2="1859.77" y2="280.84" stroke="#1a1a1a" stroke-width="1.9" stroke-linecap="butt"/>
<line x1="1859.77" y1="280.84" x2="1873.64" y2="285.2" stroke="#1a1a1a" stroke-width="1.9" stroke-linecap="butt"/>
<line x1="1873.64" y1="285.2" x2="1867.69" y2="272.91" stroke="#1a1a1a" stroke-width="0.9" stroke-linecap="round"/>
<line x1="1867.69" y1="272.91" x2="1851.84" y2="276.28" stroke="#1a1a1a" stroke-width="0.9" stroke-linecap="round"/>
<line x1="1851.84" y1="276.28" x2="1836.59" y2="274.9" stroke="#1a1a1a" stroke-width="0.9" stroke-linecap="round"/>
<text class="a" x="1844.91" y="287.76" font-size="6" text-anchor="middle" fill="#1a1a1a" stroke="#1a1a1a" stroke-width="0.22">O</text>
<line x1="1873.64" y1="285.2" x2="1877.95" y2="285.2" stroke="#1a1a1a" stroke-width="0.9" stroke-linecap="round"/>
<text class="a" x="1883.35" y="287.29" font-size="5.8" text-anchor="middle" fill="#1a1a1a" stroke="#1a1a1a" stroke-width="0.22">OH</text>
<line x1="1859.77" y1="280.84" x2="1861.75" y2="284.8" stroke="#1a1a1a" stroke-width="0.9" stroke-linecap="round"/>
<line x1="1867.69" y1="272.91" x2="1873.83" y2="273.91" stroke="#1a1a1a" stroke-width="0.9" stroke-linecap="round"/>
<line x1="1867.69" y1="272.91" x2="1867.69" y2="269.17" stroke="#1a1a1a" stroke-width="0.9" stroke-linecap="round"/>
<text class="a" x="1865.32" y="268.36" font-size="5.8" fill="#1a1a1a" stroke="#1a1a1a" stroke-width="0.22">OCH<tspan font-size="4" dy="1.2">3</tspan></text>
<line x1="1854.63" y1="395.8" x2="1863.54" y2="400.76" stroke="#1a1a1a" stroke-width="0.9" stroke-linecap="round"/>
<line x1="1863.54" y1="400.76" x2="1863.54" y2="411.66" stroke="#1a1a1a" stroke-width="0.9" stroke-linecap="round"/>
<line x1="1863.54" y1="411.66" x2="1872.46" y2="416.61" stroke="#1a1a1a" stroke-width="0.9" stroke-linecap="round"/>
<line x1="1872.46" y1="416.61" x2="1872.46" y2="427.51" stroke="#1a1a1a" stroke-width="0.9" stroke-linecap="round"/>
<line x1="1872.46" y1="427.51" x2="1863.54" y2="432.46" stroke="#1a1a1a" stroke-width="0.9" stroke-linecap="round"/>
<line x1="1863.54" y1="432.46" x2="1863.54" y2="443.36" stroke="#1a1a1a" stroke-width="0.9" stroke-linecap="round"/>
<line x1="1863.54" y1="443.36" x2="1854.63" y2="448.31" stroke="#1a1a1a" stroke-width="0.9" stroke-linecap="round"/>
<line x1="1854.63" y1="448.31" x2="1845.71" y2="443.36" stroke="#1a1a1a" stroke-width="0.9" stroke-linecap="round"/>
<line x1="1845.71" y1="443.36" x2="1845.71" y2="435.46" stroke="#1a1a1a" stroke-width="0.9" stroke-linecap="round"/>
<line x1="1843.48" y1="431.52" x2="1836.8" y2="427.51" stroke="#1a1a1a" stroke-width="0.9" stroke-linecap="round"/>
<line x1="1836.8" y1="427.51" x2="1836.8" y2="416.61" stroke="#1a1a1a" stroke-width="0.9" stroke-linecap="round"/>
<line x1="1836.8" y1="416.61" x2="1845.71" y2="411.66" stroke="#1a1a1a" stroke-width="0.9" stroke-linecap="round"/>
<line x1="1845.71" y1="411.66" x2="1845.71" y2="400.76" stroke="#1a1a1a" stroke-width="0.9" stroke-linecap="round"/>
<line x1="1845.71" y1="400.76" x2="1854.63" y2="395.8" stroke="#1a1a1a" stroke-width="0.9" stroke-linecap="round"/>
<text class="a" x="1845.71" y="435.02" font-size="6" text-anchor="middle" fill="#1a1a1a" stroke="#1a1a1a" stroke-width="0.22">O</text>
<line x1="1855.53" y1="395.8" x2="1855.53" y2="388.5" stroke="#1a1a1a" stroke-width="0.9" stroke-linecap="round"/>
<line x1="1853.73" y1="395.8" x2="1853.73" y2="388.5" stroke="#1a1a1a" stroke-width="0.9" stroke-linecap="round"/>
<text class="a" x="1854.63" y="388.06" font-size="6" text-anchor="middle" fill="#1a1a1a" stroke="#1a1a1a" stroke-width="0.22">O</text>
<line x1="1845.27" y1="442.57" x2="1838.63" y2="446.26" stroke="#1a1a1a" stroke-width="0.9" stroke-linecap="round"/>
<line x1="1846.15" y1="444.14" x2="1839.51" y2="447.83" stroke="#1a1a1a" stroke-width="0.9" stroke-linecap="round"/>
<text class="a" x="1836.8" y="450.47" font-size="6" text-anchor="middle" fill="#1a1a1a" stroke="#1a1a1a" stroke-width="0.22">O</text>
<path d="M1865.69 399.84L1865.36 399.29M1867.84 398.93L1867.18 397.83M1869.98 398.01L1868.99 396.37M1872.13 397.1L1870.81 394.9M1874.27 396.19L1872.63 393.44" fill="none" stroke="#1a1a1a" stroke-width="0.6"/>
<path d="M1874.6 415.78L1874.28 415.22M1876.74 414.95L1876.11 413.83M1878.87 414.12L1877.93 412.44M1881.01 413.29L1879.76 411.05M1883.15 412.46L1881.58 409.67" fill="none" stroke="#1a1a1a" stroke-width="0.6"/>
<path d="M1861.93 431.08L1861.59 431.62M1860.32 429.7L1859.64 430.78M1858.7 428.32L1857.69 429.95M1857.09 426.93L1855.73 429.11M1855.47 425.55L1853.78 428.27" fill="none" stroke="#1a1a1a" stroke-width="0.6"/>
<polygon points="1854.63,448.31 1853.13,459.21 1856.13,459.21" fill="#1a1a1a"/>
<polygon points="1845.71,400.76 1836.54,393.9 1835.07,396.52" fill="#1a1a1a"/>
<path d="M1835.18 415.23L1834.84 415.77M1833.57 413.85L1832.89 414.93M1831.95 412.47L1830.94 414.1M1830.34 411.08L1828.99 413.26M1828.72 409.7L1827.03 412.42" fill="none" stroke="#1a1a1a" stroke-width="0.6"/>
<path d="M1834.85 428.3L1835.18 428.85M1832.9 429.1L1833.56 430.2M1830.95 429.89L1831.94 431.54M1829 430.69L1830.32 432.88M1827.06 431.48L1828.7 434.23" fill="none" stroke="#1a1a1a" stroke-width="0.6"/>
<line x1="1827.88" y1="432.86" x2="1827.88" y2="443.36" stroke="#1a1a1a" stroke-width="0.9" stroke-linecap="round"/>
<polygon points="1845.71,411.66 1851.35,416.52 1852.68,414.28" fill="#1a1a1a"/>
<text class="a" x="1857.01" y="419.09" font-size="5.8" text-anchor="middle" fill="#1a1a1a" stroke="#1a1a1a" stroke-width="0.22">OH</text>
<path d="M1873.72 428.65L1874.03 428.14M1874.97 429.78L1875.61 428.77M1876.23 430.92L1877.18 429.4M1877.49 432.06L1878.76 430.03M1878.74 433.2L1880.33 430.66" fill="none" stroke="#1a1a1a" stroke-width="0.6"/>
<text class="a" x="1884.35" y="434.94" font-size="5.8" text-anchor="middle" fill="#1a1a1a" stroke="#1a1a1a" stroke-width="0.22">OH</text>
<path d="M1864.81 444.43L1865.1 443.91M1866.07 445.5L1866.67 444.46M1867.33 446.57L1868.23 445.01M1868.59 447.64L1869.79 445.56M1869.85 448.72L1871.35 446.12" fill="none" stroke="#1a1a1a" stroke-width="0.6"/>
<text class="a" x="1875.23" y="450.6" font-size="5.8" text-anchor="middle" fill="#1a1a1a" stroke="#1a1a1a" stroke-width="0.22">OH</text>
<line x1="1830.62" y1="18.75" x2="1842.5" y2="15.62" stroke="#1a1a1a" stroke-width="1.6" stroke-linecap="butt"/>
<line x1="1842.5" y1="15.62" x2="1855" y2="19.38" stroke="#1a1a1a" stroke-width="1.6" stroke-linecap="butt"/>
<line x1="1855" y1="19.38" x2="1860.62" y2="8.5" stroke="#1a1a1a" stroke-width="1.4" stroke-linecap="butt"/>
<line x1="1860.62" y1="8.5" x2="1851.52" y2="10.85" stroke="#1a1a1a" stroke-width="0.7" stroke-linecap="round"/>
<line x1="1846.48" y1="10.86" x2="1835.62" y2="8.12" stroke="#1a1a1a" stroke-width="0.7" stroke-linecap="round"/>
<line x1="1835.62" y1="8.12" x2="1830.62" y2="18.75" stroke="#1a1a1a" stroke-width="0.7" stroke-linecap="round"/>
<text class="a" x="1849" y="13.52" font-size="5.6" text-anchor="middle" fill="#1a1a1a" stroke="#1a1a1a" stroke-width="0.22">O</text>
<line x1="1860.62" y1="8.5" x2="1866.5" y2="11.25" stroke="#1a1a1a" stroke-width="0.7" stroke-linecap="round"/>
<text class="a" x="1867.12" y="13.8" font-size="5" text-anchor="start" fill="#1a1a1a" stroke="#1a1a1a" stroke-width="0.22">OTDP</text>
<line x1="1830.62" y1="18.75" x2="1824" y2="17" stroke="#1a1a1a" stroke-width="0.7" stroke-linecap="round"/>
<text class="a" x="1819" y="18.43" font-size="5" text-anchor="middle" fill="#1a1a1a" stroke="#1a1a1a" stroke-width="0.22">HO</text>
<line x1="1835.62" y1="8.12" x2="1829.75" y2="9.5" stroke="#1a1a1a" stroke-width="0.7" stroke-linecap="round"/>
<text class="a" x="1825.62" y="11.48" font-size="4.8" text-anchor="middle" fill="#1a1a1a" stroke="#1a1a1a" stroke-width="0.22">Me</text>
<line x1="1835.62" y1="8.12" x2="1837" y2="6.5" stroke="#1a1a1a" stroke-width="0.7" stroke-linecap="round"/>
<line x1="1842.5" y1="15.62" x2="1838.25" y2="21.5" stroke="#1a1a1a" stroke-width="0.7" stroke-linecap="round"/>
<text class="a" x="1835.62" y="25.48" font-size="4.8" text-anchor="middle" fill="#1a1a1a" stroke="#1a1a1a" stroke-width="0.22">Me</text>
<line x1="1842.5" y1="15.62" x2="1839.5" y2="7.25" stroke="#1a1a1a" stroke-width="0.7" stroke-linecap="round"/>
<text class="a" x="1837.75" y="6.55" font-size="5" text-anchor="middle" fill="#1a1a1a" stroke="#1a1a1a" stroke-width="0.22">HO</text>
<line x1="1826.88" y1="84.38" x2="1834.38" y2="96.25" stroke="#1a1a1a" stroke-width="1.6" stroke-linecap="butt"/>
<line x1="1834.38" y1="96.25" x2="1848.12" y2="93.12" stroke="#1a1a1a" stroke-width="1.6" stroke-linecap="butt"/>
<line x1="1848.12" y1="93.12" x2="1860" y2="96.88" stroke="#1a1a1a" stroke-width="1.6" stroke-linecap="butt"/>
<line x1="1860" y1="96.88" x2="1855.19" y2="87.56" stroke="#1a1a1a" stroke-width="0.7" stroke-linecap="round"/>
<line x1="1851.24" y1="85.74" x2="1841.25" y2="87.5" stroke="#1a1a1a" stroke-width="0.7" stroke-linecap="round"/>
<line x1="1841.25" y1="87.5" x2="1826.88" y2="84.38" stroke="#1a1a1a" stroke-width="0.7" stroke-linecap="round"/>
<text class="a" x="1854" y="87.27" font-size="5.6" text-anchor="middle" fill="#1a1a1a" stroke="#1a1a1a" stroke-width="0.22">O</text>
<line x1="1841.25" y1="87.5" x2="1839" y2="84" stroke="#1a1a1a" stroke-width="0.7" stroke-linecap="round"/>
<text class="a" x="1836.25" y="82.98" font-size="4.8" text-anchor="middle" fill="#1a1a1a" stroke="#1a1a1a" stroke-width="0.22">Me</text>
<line x1="1834.38" y1="96.25" x2="1829" y2="95" stroke="#1a1a1a" stroke-width="0.7" stroke-linecap="round"/>
<text class="a" x="1814" y="96" font-size="5" fill="#1a1a1a" stroke="#1a1a1a" stroke-width="0.22">Me<tspan font-size="3.6" dy="1">2</tspan><tspan dy="-1">N</tspan></text>
<line x1="1848.12" y1="93.12" x2="1848.12" y2="98.5" stroke="#1a1a1a" stroke-width="0.7" stroke-linecap="round"/>
<text class="a" x="1849.38" y="103.05" font-size="5" text-anchor="middle" fill="#1a1a1a" stroke="#1a1a1a" stroke-width="0.22">OH</text>
<path d="M1859.75 98.03L1860.25 98.03M1859.5 99.19L1860.5 99.19M1859.25 100.34L1860.75 100.34M1859 101.5L1861 101.5" fill="none" stroke="#1a1a1a" stroke-width="0.6"/>
<text class="a" x="1859" y="106.8" font-size="5" text-anchor="start" fill="#1a1a1a" stroke="#1a1a1a" stroke-width="0.22">OTDP</text>
</svg>
</body></html>
